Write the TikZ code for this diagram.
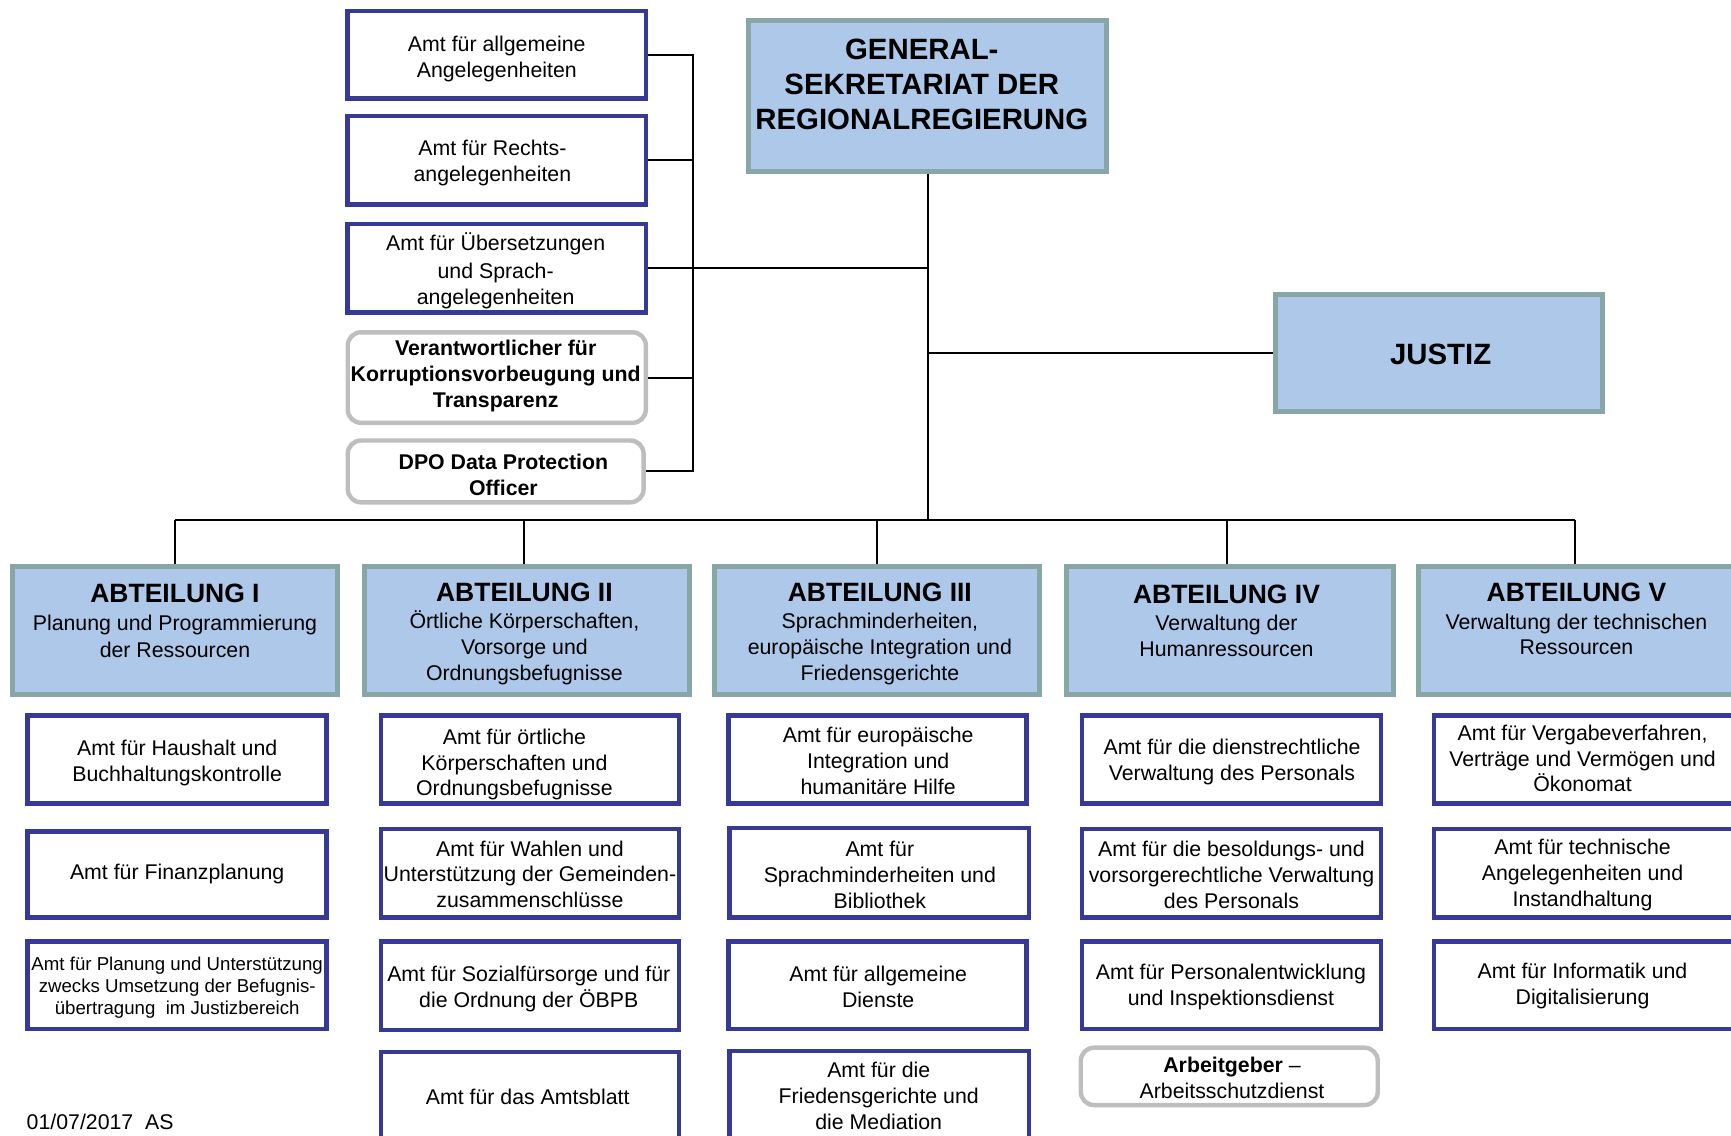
\documentclass[tikz,border=0pt]{standalone}
\usepackage{fontspec}
\setmainfont{Liberation Sans}
\definecolor{amtblue}{RGB}{54,58,150}
\definecolor{abtborder}{RGB}{136,166,166}
\definecolor{abtfill}{RGB}{173,200,232}
\definecolor{rgray}{RGB}{190,190,190}
\newcommand\nfont{\fontsize{19.3}{23.5}\selectfont}
\newcommand\sfont{\fontsize{16.9}{20}\selectfont}
\newcommand\tfont{\fontsize{26.6}{32}\selectfont\bfseries}
\newcommand\afont{\fontsize{24}{26}\selectfont\bfseries}
\newcommand\mkbox[9]{%
  \node[#2, minimum width={#5-#3-4}, minimum height={#6-#4-4}] (#1) at ({(#3+#5)/2},{(#4+#6)/2}) {};
  \node[txt] at (#7,{#8+1.5}) {#9};}
\begin{document}
\begin{tikzpicture}[x=1pt,y=-1pt,
  amt/.style={draw=amtblue, line width=4.2, fill=white, inner sep=0pt},
  abt/.style={draw=abtborder, line width=4.5, fill=abtfill, inner sep=0pt},
  grayr/.style={draw=rgray, line width=4, fill=white, rounded corners=12, inner sep=0pt},
  txt/.style={align=center, inner sep=0pt, font=\nfont},
  conn/.style={line width=1.8, black}]
\useasboundingbox (0,0) rectangle (1568,1029);
\clip (0,0) rectangle (1568,1029);

% top left offices
\mkbox{aA}{amt}{313}{8}{587}{91}{450}{52}{Amt für allgemeine\\Angelegenheiten}
\mkbox{aR}{amt}{313}{103}{587}{187}{446}{146}{Amt für Rechts-\\angelegenheiten}
\mkbox{aU}{amt}{313}{201}{587}{285}{449}{244}{Amt für Übersetzungen\\[1.5pt]und Sprach-\\angelegenheiten}
\mkbox{vK}{grayr}{313}{299}{587}{385}{449}{339}{\bfseries Verantwortlicher für\\\bfseries Korruptionsvorbeugung und\\\bfseries Transparenz}
\mkbox{dpo}{grayr}{313}{397}{585}{457}{456}{428.5}{\bfseries DPO Data Protection\\\bfseries Officer}

% general secretariat and justice
\mkbox{gen}{abt}{676}{17}{1004}{157}{835}{75}{\tfont GENERAL-\\[8.5pt]\tfont SEKRETARIAT DER\\[8.5pt]\tfont REGIONALREGIERUNG}
\mkbox{jus}{abt}{1153}{265}{1454}{375}{1305}{319.5}{\tfont JUSTIZ}

% departments
\mkbox{a1}{abt}{9}{511}{308}{631}{158.5}{561}{{\afont ABTEILUNG I}\\[1.5pt]Planung und Programmierung\\[1.5pt]der Ressourcen}
\mkbox{a2}{abt}{328}{511}{627}{631}{475}{573}{{\afont ABTEILUNG II}\\[1pt]Örtliche Körperschaften,\\Vorsorge und\\Ordnungsbefugnisse}
\mkbox{a3}{abt}{645}{511}{944}{631}{797}{573}{{\afont ABTEILUNG III}\\[1pt]Sprachminderheiten,\\europäische Integration und\\Friedensgerichte}
\mkbox{a4}{abt}{964}{511}{1264}{631}{1111}{561}{{\afont ABTEILUNG IV}\\[1pt]Verwaltung der\\Humanressourcen}
\mkbox{a5}{abt}{1283}{511}{1583}{631}{1428}{559.5}{{\afont ABTEILUNG V}\\[1pt]Verwaltung der technischen\\Ressourcen}

% column I
\mkbox{c11}{amt}{23}{646}{298}{730}{160.5}{690}{Amt für Haushalt und\\Buchhaltungskontrolle}
\mkbox{c12}{amt}{23}{751}{298}{833}{160.5}{790}{Amt für Finanzplanung}
\mkbox{c13}{amt}{23}{851}{298}{934}{160.5}{893}{\sfont Amt für Planung und Unterstützung\\[-3.5pt]\sfont zwecks Umsetzung der Befugnis-\\[-3.5pt]\sfont übertragung\ \ im Justizbereich}
% column II
\mkbox{c21}{amt}{343}{646}{617}{730}{466}{691}{Amt für örtliche\\Körperschaften und\\Ordnungsbefugnisse}
\mkbox{c22}{amt}{343}{749}{617}{833}{480}{790.5}{Amt für Wahlen und\\Unterstützung der Gemeinden-\\zusammenschlüsse}
\mkbox{c23}{amt}{343}{851}{617}{935}{479}{894}{Amt für Sozialfürsorge und für\\die Ordnung der ÖBPB}
\mkbox{c24}{amt}{343}{951}{617}{1040}{478}{992}{Amt für das Amtsblatt}
% column III
\mkbox{c31}{amt}{658}{646}{932}{730}{795.5}{688}{Amt für europäische\\Integration und\\humanitäre Hilfe}
\mkbox{c32}{amt}{659}{748}{934}{833}{797}{791}{Amt für\\Sprachminderheiten und\\Bibliothek}
\mkbox{c33}{amt}{658}{851}{932}{934}{795.5}{892.5}{Amt für allgemeine\\Dienste}
\mkbox{c34}{amt}{659}{950}{934}{1040}{796}{991.5}{Amt für die\\Friedensgerichte und\\die Mediation}
% column IV
\mkbox{c41}{amt}{978}{646}{1253}{730}{1116}{688.5}{Amt für die dienstrechtliche\\Verwaltung des Personals}
\mkbox{c42}{amt}{978}{749}{1253}{833}{1115.5}{791}{Amt für die besoldungs- und\\vorsorgerechtliche Verwaltung\\des Personals}
\mkbox{c43}{amt}{978}{851}{1253}{934}{1115}{892.5}{Amt für Personalentwicklung\\und Inspektionsdienst}
\mkbox{c44}{grayr}{977}{947}{1250}{1003}{1116}{975}{\textbf{Arbeitgeber} –\\Arbeitsschutzdienst}
% column V
\mkbox{c51}{amt}{1297}{646}{1572}{730}{1433.5}{685.5}{Amt für Vergabeverfahren,\\Verträge und Vermögen und\\Ökonomat}
\mkbox{c52}{amt}{1297}{749}{1572}{833}{1433.5}{791}{Amt für technische\\Angelegenheiten und\\Instandhaltung}
\mkbox{c53}{amt}{1297}{851}{1572}{934}{1433.5}{892}{Amt für Informatik und\\Digitalisierung}

\node[txt, anchor=west] (date) at (24,1016) {01/07/2017\ \ AS};

% connectors
\coordinate (lb) at (628,0);
\coordinate (bus) at (0,471);
\draw[conn] (aA.east) -- (aA.east -| lb) -- (dpo.east -| lb) -- (dpo.east);
\draw[conn] (aR.east) -- (aR.east -| lb);
\draw[conn] (aU.east) -- ([xshift=1]aU.east -| gen.south);
\draw[conn] (vK.east) -- (vK.east -| lb);
\draw[conn] ([xshift=1]gen.south) -- ([xshift=1]gen.south |- bus);
\draw[conn] ([xshift=1]jus.west -| gen.south) -- (jus.west);
\draw[conn] (a1.north |- bus) -- ([xshift=-6]a5.north |- bus);
\draw[conn] (a1.north |- bus) -- (a1.north);
\draw[conn] ([xshift=-2.5]a2.north |- bus) -- ([xshift=-2.5]a2.north);
\draw[conn] (a3.north |- bus) -- (a3.north);
\draw[conn] ([xshift=-3]a4.north |- bus) -- ([xshift=-3]a4.north);
\draw[conn] ([xshift=-6]a5.north |- bus) -- ([xshift=-6]a5.north);
\end{tikzpicture}
\end{document}
